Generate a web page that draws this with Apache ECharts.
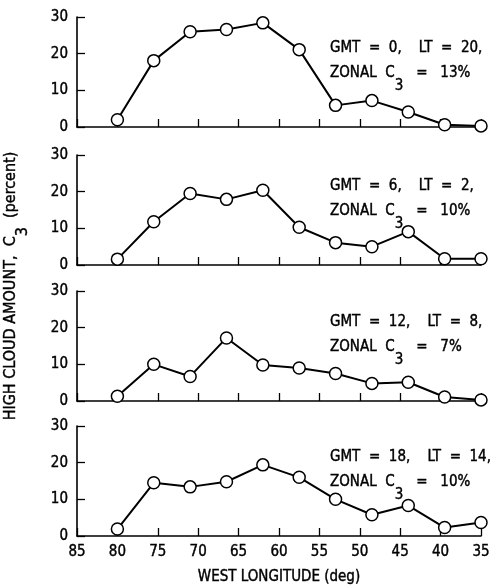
<!DOCTYPE html>
<html>
<head>
<meta charset="utf-8">
<script src="https://cdn.jsdelivr.net/npm/echarts@6/dist/echarts.min.js"></script>
<style>
  html, body { margin: 0; padding: 0; background: #fff; }
  #chart { width: 496px; height: 587px; }
</style>
</head>
<body>
<div id="chart"></div>
<script>
// West longitude of each sample (deg)
const longitudes = [80, 75.5, 71, 66.5, 62, 57.5, 53, 48.5, 44, 39.5, 35];

// High cloud amount C3 (percent) for each synoptic hour
const cloudGmt0  = [2.0, 18.1, 26.0, 26.6, 28.4, 21.1, 5.9, 7.2, 4.1, 0.6, 0.3];
const cloudGmt6  = [1.6, 11.8, 19.5, 17.9, 20.4, 10.3, 6.1, 5.0, 9.1, 1.7, 1.7];
const cloudGmt12 = [1.3, 10.0, 6.7, 17.2, 9.8, 9.0, 7.5, 4.8, 5.1, 1.1, 0.3];
const cloudGmt18 = [1.9, 14.5, 13.4, 14.8, 19.4, 16.0, 10.0, 5.8, 8.3, 2.3, 3.7];

// Panel annotations
const gmtHours   = [0, 6, 12, 18];
const localTimes = [20, 2, 8, 14];
const zonalMeans = [13, 10, 7, 10];

const yTicks = [0, 10, 20, 30];
const xTicks = [85, 80, 75, 70, 65, 60, 55, 50, 45, 40, 35];

const FONT = '"DejaVu Sans Condensed", "Liberation Sans Narrow", sans-serif';
const INK = { color: '#000', textBorderColor: '#000', textBorderWidth: 0.4 };
const series = [cloudGmt0, cloudGmt6, cloudGmt12, cloudGmt18];

const panelTops = [17, 155, 291, 426];
const panelH = 110;
const left = 77, width = 404;

const grids = [], xAxes = [], yAxes = [], seriesList = [], graphics = [];

// Rich text with a lowered "3" subscript
function richStyles(size) {
  return {
    t: { fontFamily: FONT, fontSize: size, fill: '#000', stroke: '#000', lineWidth: 0.4,
         lineHeight: 16, verticalAlign: 'top' },
    s: { fontFamily: FONT, fontSize: size, fill: '#000', stroke: '#000', lineWidth: 0.4,
         lineHeight: 28, verticalAlign: 'bottom' }
  };
}

series.forEach((vals, i) => {
  grids.push({ left: left, top: panelTops[i], width: width, height: panelH });
  const last = i === series.length - 1;
  xAxes.push({
    gridIndex: i, type: 'value', min: 35, max: 85, interval: 5, inverse: true,
    axisLine: { show: true, onZero: false, lineStyle: { color: '#000', width: 1.6 } },
    axisTick: { show: true, inside: true, length: 8, lineStyle: { color: '#000', width: 1.3 } },
    axisLabel: Object.assign({
      show: last, fontFamily: FONT, fontSize: 15, margin: 9,
      formatter: v => xTicks.includes(v) ? String(v) : ''
    }, INK),
    splitLine: { show: false },
    name: last ? 'WEST LONGITUDE (deg)' : '',
    nameLocation: 'middle', nameGap: 34,
    nameTextStyle: Object.assign({ fontFamily: FONT, fontSize: 15 }, INK)
  });
  yAxes.push({
    gridIndex: i, type: 'value', min: 0, max: 30, interval: 10,
    axisLine: { show: true, lineStyle: { color: '#000', width: 1.6 } },
    axisTick: { show: true, inside: true, length: 8, lineStyle: { color: '#000', width: 1.3 } },
    axisLabel: Object.assign({
      fontFamily: FONT, fontSize: 15, margin: 9,
      formatter: v => yTicks.includes(v) ? String(v) : ''
    }, INK),
    splitLine: { show: false }
  });
  seriesList.push({
    type: 'line', xAxisIndex: i, yAxisIndex: i,
    data: longitudes.map((lon, k) => [lon, vals[k]]),
    symbol: 'circle', symbolSize: 12, clip: false,
    lineStyle: { color: '#000', width: 2 },
    itemStyle: { color: '#fff', borderColor: '#000', borderWidth: 1.5 },
    z: 3
  });
  // Two-line annotation: time stamps, then the zonal mean with C subscript 3
  graphics.push({
    type: 'text', x: 330, y: panelTops[i] + 31,
    style: {
      text: 'GMT  =  ' + gmtHours[i] + ',    LT  =  ' + localTimes[i] + ',',
      font: '15px ' + FONT, fill: '#000', stroke: '#000', lineWidth: 0.4,
      verticalAlign: 'middle'
    }
  });
  graphics.push({
    type: 'text', x: 330, y: panelTops[i] + 49,
    style: {
      text: '{t|ZONAL  C}{s|3}{t|   =   ' + zonalMeans[i] + '%}',
      verticalAlign: 'top',
      rich: richStyles(15)
    }
  });
});

// Shared vertical axis title
graphics.push({
  type: 'text', x: 17, y: 286, rotation: Math.PI / 2,
  style: {
    text: '{t|HIGH CLOUD AMOUNT,  C}{s|3}{t|  (percent)}',
    align: 'center', verticalAlign: 'middle',
    rich: richStyles(16)
  }
});

const chart = echarts.init(document.getElementById('chart'), null, { renderer: 'canvas' });
chart.setOption({
  animation: false,
  backgroundColor: '#fff',
  grid: grids, xAxis: xAxes, yAxis: yAxes, series: seriesList,
  graphic: graphics
});
</script>
</body>
</html>
